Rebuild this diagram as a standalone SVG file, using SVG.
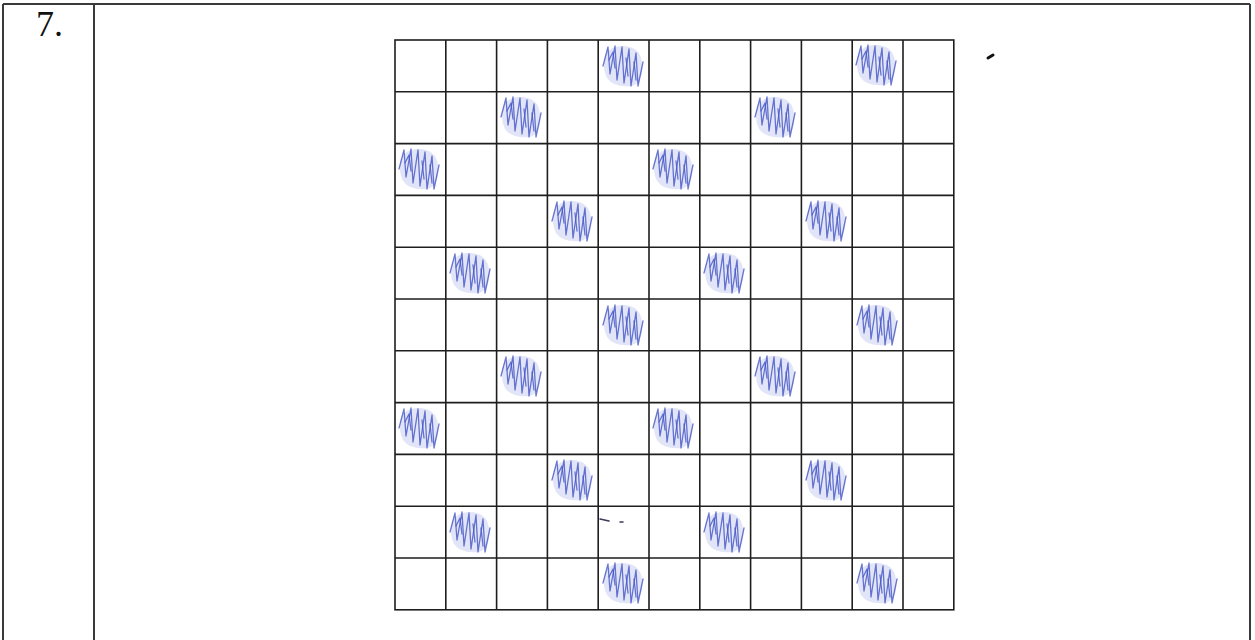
<svg xmlns="http://www.w3.org/2000/svg" xmlns:xlink="http://www.w3.org/1999/xlink" width="1255" height="640" viewBox="0 0 1255 640">
<style>
.frame{stroke:#3a3a3a;stroke-width:2;fill:none}
.grid{stroke:#1e1e1e;stroke-width:1.6;fill:none}
.lbl{font-family:"Liberation Serif",serif;font-size:36px;fill:#111}
.blob{fill:#c3cbf0;opacity:0.5}
.zig{fill:none;stroke:#4555c4;stroke-width:1.3;stroke-linejoin:round;stroke-linecap:round;opacity:0.8}
</style>
<defs>
<g id="scr">
<path class="blob" d="M5,14 Q10,3 24,4 Q40,5 42,20 Q44,40 32,44 Q14,46 7,36 Q2,26 5,14 Z"/>
<path class="zig" d="M3,24 L8,5 L10,32 L15,4 L17,38 L22,5 L24,41 L29,7 L31,44 L36,11 L38,44 L43,20"/>
<path class="zig" d="M9,18 L13,10 L15,26 M26,16 L28,34 M34,20 L36,38" opacity="0.5"/>
</g>
</defs>
<rect width="1255" height="640" fill="#ffffff"/>
<g id="frame">
<line class="frame" x1="3" y1="4" x2="1250" y2="4"/>
<line class="frame" x1="3" y1="4" x2="3" y2="640"/>
<line class="frame" x1="94" y1="4" x2="94" y2="640"/>
<line class="frame" x1="1250" y1="4" x2="1250" y2="640"/>
</g>
<g id="label">
<text class="lbl" x="36" y="36">7.</text>
</g>
<g id="grid">
<rect class="grid" x="395" y="40" width="558.8" height="569.8"/>
<path class="grid" d="M445.8,40V609.8M496.6,40V609.8M547.4,40V609.8M598.2,40V609.8M649,40V609.8M699.8,40V609.8M750.6,40V609.8M801.4,40V609.8M852.2,40V609.8M903,40V609.8"/>
<path class="grid" d="M395,91.8H953.8M395,143.6H953.8M395,195.4H953.8M395,247.2H953.8M395,299H953.8M395,350.8H953.8M395,402.6H953.8M395,454.4H953.8M395,506.2H953.8M395,558H953.8"/>
</g>
<g id="shading">
<use xlink:href="#scr" x="600" y="42"/>
<use xlink:href="#scr" x="853" y="41"/>
<use xlink:href="#scr" x="498" y="93"/>
<use xlink:href="#scr" x="752" y="93"/>
<use xlink:href="#scr" x="396" y="145"/>
<use xlink:href="#scr" x="650" y="145"/>
<use xlink:href="#scr" x="549" y="197"/>
<use xlink:href="#scr" x="803" y="197"/>
<use xlink:href="#scr" x="447" y="249"/>
<use xlink:href="#scr" x="701" y="249"/>
<use xlink:href="#scr" x="600" y="301"/>
<use xlink:href="#scr" x="854" y="301"/>
<use xlink:href="#scr" x="498" y="352"/>
<use xlink:href="#scr" x="752" y="352"/>
<use xlink:href="#scr" x="396" y="404"/>
<use xlink:href="#scr" x="650" y="404"/>
<use xlink:href="#scr" x="549" y="456"/>
<use xlink:href="#scr" x="803" y="456"/>
<use xlink:href="#scr" x="447" y="508"/>
<use xlink:href="#scr" x="701" y="508"/>
<use xlink:href="#scr" x="600" y="559"/>
<use xlink:href="#scr" x="854" y="559"/>
</g>
<g id="marks">
<path d="M988,58 L993,55" stroke="#111" stroke-width="3" stroke-linecap="round"/>
<path d="M600,519 L609,521 M620,522 L623,522" stroke="#3a3a5a" stroke-width="1.5" stroke-linecap="round"/>
</g>
</svg>
